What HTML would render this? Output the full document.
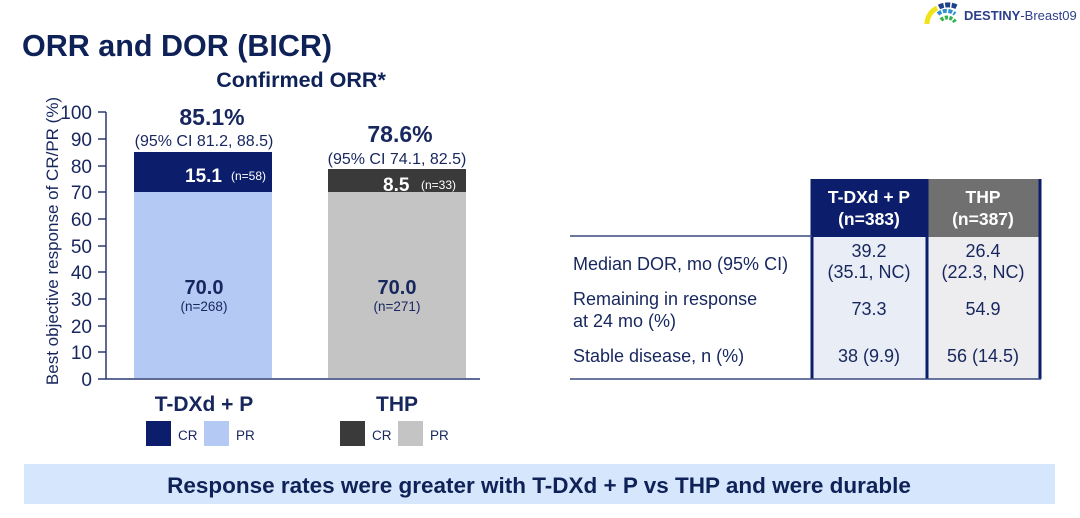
<!DOCTYPE html>
<html><head><meta charset="utf-8"><style>
html,body{margin:0;padding:0;background:#fff;}
body{width:1080px;height:513px;overflow:hidden;font-family:"Liberation Sans",Arial,sans-serif;}
</style></head><body>
<svg width="1080" height="513" xmlns="http://www.w3.org/2000/svg" font-family="Liberation Sans, Arial, sans-serif">
<rect width="1080" height="513" fill="#fff"/>
<!-- logo -->
<g fill="none" stroke-width="4">
<path d="M927 24 A18 18 0 0 1 937 8" stroke="#f2e21c" stroke-width="5"/>
<path d="M939 7 A20 20 0 0 1 957 7" stroke="#1e3f8a" stroke-width="5" stroke-dasharray="5 1.5"/>
<path d="M938 14 A13 13 0 0 1 955 14" stroke="#2f8fd0" stroke-dasharray="4 1.5"/>
<path d="M941 20 A9 9 0 0 1 955 22" stroke="#2fb34a" stroke-dasharray="3 1.5"/>
</g>
<text x="964" y="20" font-size="13" font-weight="bold" fill="#2c3f8a">DESTINY<tspan font-weight="normal">-Breast09</tspan></text>
<!-- titles -->
<text x="22" y="56" font-size="30.5" font-weight="bold" fill="#0f2258">ORR and DOR (BICR)</text>
<text x="301" y="87" font-size="21.5" font-weight="bold" fill="#0f2258" text-anchor="middle">Confirmed ORR*</text>
<!-- y label -->
<text transform="translate(58,241) rotate(-90)" font-size="17" fill="#17275e" text-anchor="middle">Best objective response of CR/PR (%)</text>
<!-- ticks -->
<g font-size="19" fill="#17275e" text-anchor="end">
<text x="92" y="386">0</text><text x="92" y="359">10</text><text x="92" y="333">20</text><text x="92" y="306">30</text><text x="92" y="279">40</text><text x="92" y="253">50</text><text x="92" y="226">60</text><text x="92" y="199">70</text><text x="92" y="173">80</text><text x="92" y="146">90</text><text x="92" y="119">100</text>
</g>
<g stroke="#2a3a70" stroke-width="1.5">
<line x1="106" y1="112" x2="106" y2="379"/>
<line x1="98" y1="379" x2="480" y2="379"/>
<line x1="98" y1="112" x2="106" y2="112"/><line x1="98" y1="139" x2="106" y2="139"/><line x1="98" y1="166" x2="106" y2="166"/><line x1="98" y1="192" x2="106" y2="192"/><line x1="98" y1="219" x2="106" y2="219"/><line x1="98" y1="246" x2="106" y2="246"/><line x1="98" y1="272" x2="106" y2="272"/><line x1="98" y1="299" x2="106" y2="299"/><line x1="98" y1="326" x2="106" y2="326"/><line x1="98" y1="352" x2="106" y2="352"/>
</g>
<!-- bars -->
<rect x="134" y="192" width="138" height="186" fill="#b5c9f5"/>
<rect x="134" y="152" width="138" height="40" fill="#0c1e6b"/>
<rect x="328" y="192" width="138" height="186" fill="#c4c4c4"/>
<rect x="328" y="169" width="138" height="23" fill="#3a3a3a"/>
<text x="212" y="125" font-size="23" font-weight="bold" fill="#17275e" text-anchor="middle">85.1%</text>
<text x="204" y="146" font-size="16" fill="#17275e" text-anchor="middle">(95% CI 81.2, 88.5)</text>
<text x="400" y="142" font-size="23" font-weight="bold" fill="#17275e" text-anchor="middle">78.6%</text>
<text x="397" y="164" font-size="16" fill="#17275e" text-anchor="middle">(95% CI 74.1, 82.5)</text>
<text x="185" y="182" font-size="19" font-weight="bold" fill="#fff">15.1</text>
<text x="231" y="180" font-size="12" fill="#fff">(n=58)</text>
<text x="383" y="191" font-size="19" font-weight="bold" fill="#fff">8.5</text>
<text x="421" y="189" font-size="12" fill="#fff">(n=33)</text>
<text x="204" y="294" font-size="20" font-weight="bold" fill="#17275e" text-anchor="middle">70.0</text>
<text x="204" y="311" font-size="13.5" fill="#17275e" text-anchor="middle">(n=268)</text>
<text x="397" y="294" font-size="20" font-weight="bold" fill="#17275e" text-anchor="middle">70.0</text>
<text x="397" y="311" font-size="13.5" fill="#17275e" text-anchor="middle">(n=271)</text>
<text x="204" y="411" font-size="21" font-weight="bold" fill="#17275e" text-anchor="middle">T-DXd + P</text>
<text x="397" y="411" font-size="21" font-weight="bold" fill="#17275e" text-anchor="middle">THP</text>
<!-- legend -->
<rect x="146" y="421" width="25" height="25" fill="#0c1e6b"/><text x="178" y="440" font-size="13.5" fill="#17275e">CR</text>
<rect x="204" y="421" width="25" height="25" fill="#b5c9f5"/><text x="236" y="440" font-size="13.5" fill="#17275e">PR</text>
<rect x="340" y="421" width="25" height="25" fill="#3a3a3a"/><text x="372" y="440" font-size="13.5" fill="#17275e">CR</text>
<rect x="398" y="421" width="25" height="25" fill="#c4c4c4"/><text x="430" y="440" font-size="13.5" fill="#17275e">PR</text>
<!-- table -->
<rect x="812" y="237" width="115" height="142" fill="#e9edf5"/>
<rect x="927" y="237" width="113" height="142" fill="#ededef"/>
<rect x="812" y="179" width="115" height="58" fill="#0c1e6b"/>
<rect x="927" y="179" width="113" height="58" fill="#707070"/>
<g stroke="#0c1e6b" stroke-width="3">
<line x1="812" y1="179" x2="812" y2="379"/><line x1="927" y1="179" x2="927" y2="379"/><line x1="1040" y1="179" x2="1040" y2="379"/>
</g>
<line x1="570" y1="236" x2="812" y2="236" stroke="#3b4a80" stroke-width="1.5"/>
<line x1="570" y1="379" x2="1041" y2="379" stroke="#3b4a80" stroke-width="1.5"/>
<g font-size="17.5" font-weight="bold" fill="#fff" text-anchor="middle">
<text x="869" y="203">T-DXd + P</text><text x="869" y="225">(n=383)</text>
<text x="983" y="203">THP</text><text x="983" y="225">(n=387)</text>
</g>
<g font-size="18" fill="#17275e">
<text x="573" y="270">Median DOR, mo (95% CI)</text>
<text x="573" y="305">Remaining in response</text>
<text x="573" y="327">at 24 mo (%)</text>
<text x="573" y="362">Stable disease, n (%)</text>
</g>
<g font-size="18" fill="#17275e" text-anchor="middle">
<text x="869" y="257">39.2</text><text x="869" y="278">(35.1, NC)</text>
<text x="983" y="257">26.4</text><text x="983" y="278">(22.3, NC)</text>
<text x="869" y="315">73.3</text><text x="983" y="315">54.9</text>
<text x="869" y="362">38 (9.9)</text><text x="983" y="362">56 (14.5)</text>
</g>
<!-- banner -->
<rect x="24" y="464" width="1031" height="40" fill="#d6e6fc"/>
<text x="539" y="493" font-size="22.5" font-weight="bold" fill="#0f2258" text-anchor="middle">Response rates were greater with T-DXd + P vs THP and were durable</text>
</svg>
</body></html>
